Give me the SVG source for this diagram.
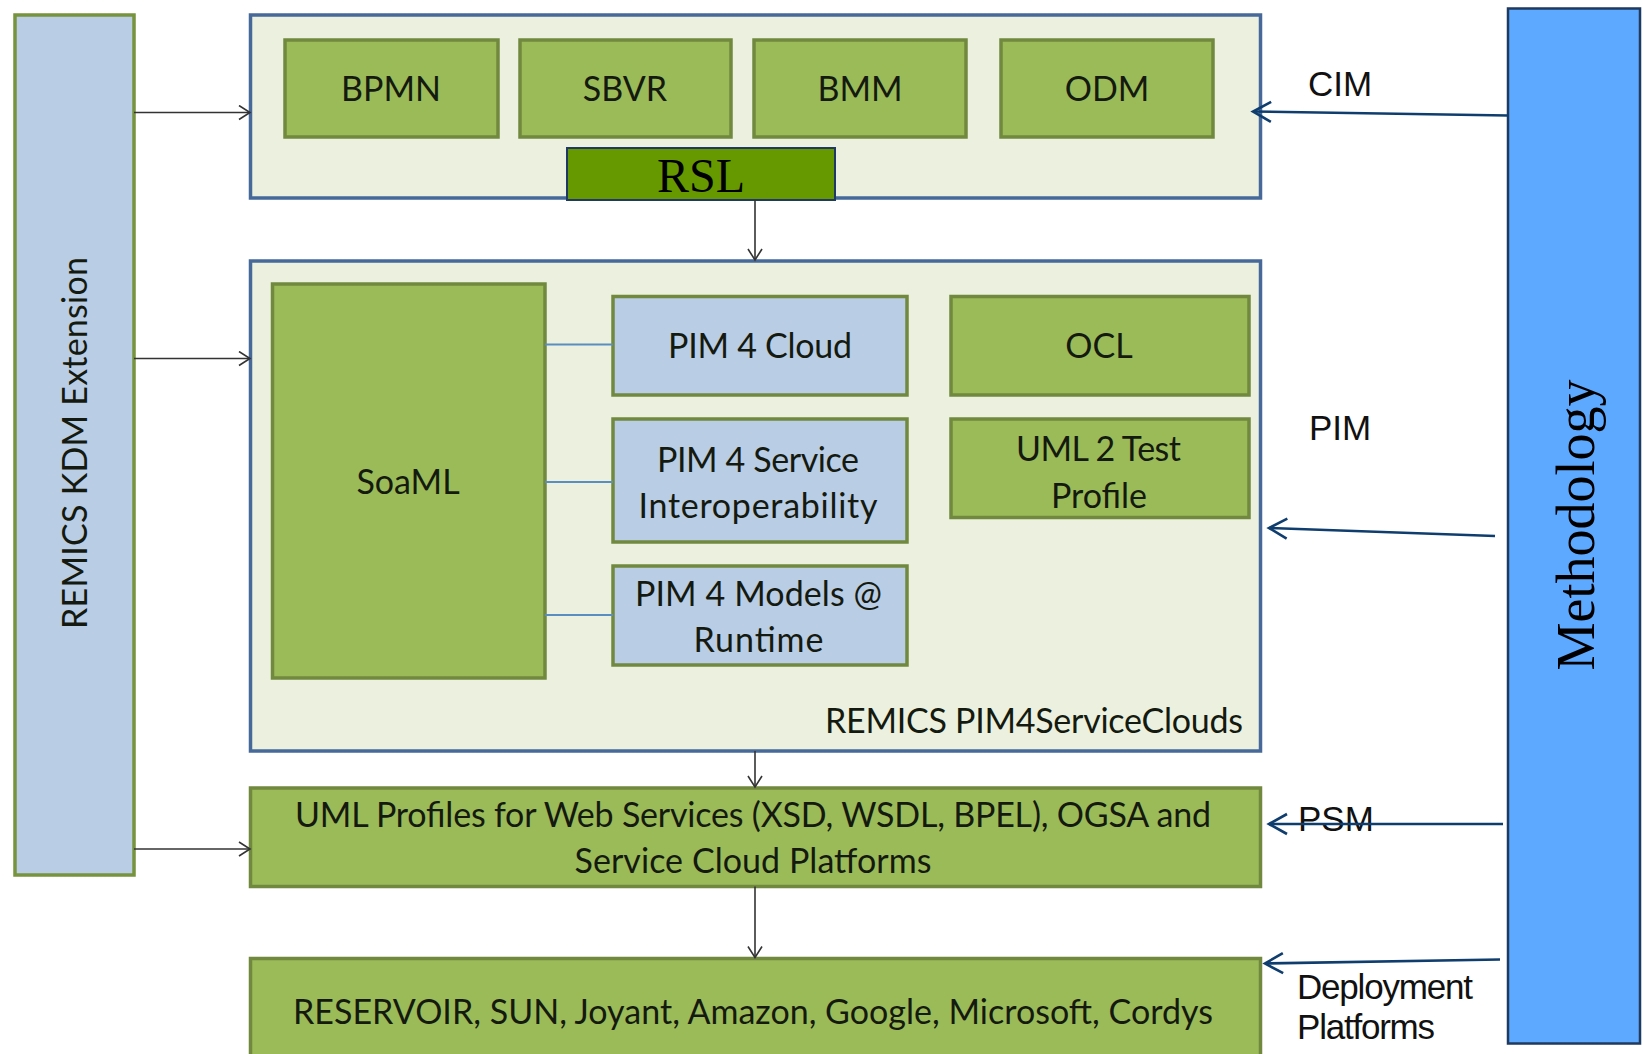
<svg xmlns="http://www.w3.org/2000/svg" width="1643" height="1054" viewBox="0 0 1643 1054">
<defs>
<style>
.cont{fill:#EBF1DE;stroke:#46699A;stroke-width:3.5}
.g{fill:#9BBB59;stroke:#71893F;stroke-width:3.5}
.b{fill:#B9CDE5;stroke:#71893F;stroke-width:3.5}
.t{font-family:Lato,"Open Sans",sans-serif;font-size:34px;fill:#151a10;text-anchor:middle}
.a{font-family:"Liberation Sans",Arial,sans-serif;fill:#111;font-size:35px}
.k{stroke:#333;stroke-width:1.6;fill:none}
.n{stroke:#0F3D6E;stroke-width:2.6;fill:none}
.lnk{stroke:#5B8EC0;stroke-width:2;fill:none}
</style>
<marker id="ak" markerWidth="14" markerHeight="16" refX="12" refY="8" orient="auto" markerUnits="userSpaceOnUse"><path d="M1,1 L12,8 L1,15" fill="none" stroke="#333" stroke-width="1.6"/></marker>
<marker id="an" markerWidth="22" markerHeight="24" refX="19" refY="12" orient="auto" markerUnits="userSpaceOnUse"><path d="M1,2 L19,12 L1,22" fill="none" stroke="#0F3D6E" stroke-width="2.6"/></marker>
</defs>
<rect width="1643" height="1054" fill="#fff"/>

<g id="kdm">
<rect x="15" y="15" width="119" height="860" fill="#B9CDE5" stroke="#77933C" stroke-width="3.5"/>
<text class="t" transform="translate(87,443) rotate(-90)" textLength="372">REMICS KDM Extension</text>
</g>

<g id="methodology">
<rect x="1508" y="8.5" width="132" height="1035" fill="#5DA9FF" stroke="#1F3A60" stroke-width="2.5"/>
<text transform="translate(1594,525) rotate(-90)" font-family="'Liberation Serif','Times New Roman',serif" font-size="54" text-anchor="middle" fill="#000">Methodology</text>
</g>

<g id="cim">
<rect class="cont" x="250.5" y="15" width="1010" height="183"/>
<g id="bpmn"><rect class="g" x="285" y="40" width="213" height="97"/><text class="t" x="391" y="100.5">BPMN</text></g>
<g id="sbvr"><rect class="g" x="520" y="40" width="211" height="97"/><text class="t" x="625" y="100.5">SBVR</text></g>
<g id="bmm"><rect class="g" x="754" y="40" width="212" height="97"/><text class="t" x="860" y="100.5">BMM</text></g>
<g id="odm"><rect class="g" x="1001" y="40" width="212" height="97"/><text class="t" x="1107" y="100.5">ODM</text></g>
<g id="rsl"><rect x="567" y="148" width="268" height="52" fill="#669900" stroke="#1F3864" stroke-width="2"/><text x="701" y="192" font-family="'Liberation Serif','Times New Roman',serif" font-size="48" text-anchor="middle" fill="#000">RSL</text></g>
</g>

<g id="pim">
<rect class="cont" x="250.5" y="261" width="1010" height="490"/>
<g id="soaml"><rect class="g" x="272.5" y="284" width="272.5" height="394"/><text class="t" x="408" y="494">SoaML</text></g>
<g id="pim4cloud"><rect class="b" x="613" y="296.5" width="294" height="98.5"/><text class="t" x="760" y="358" textLength="184">PIM 4 Cloud</text></g>
<g id="pim4service"><rect class="b" x="613" y="419" width="294" height="123"/><text class="t" x="758" y="472" textLength="202">PIM 4 Service</text><text class="t" x="758" y="518" textLength="239">Interoperability</text></g>
<g id="pim4models"><rect class="b" x="613" y="566" width="294" height="99"/><text class="t" x="758.5" y="605.5" textLength="247">PIM 4 Models @</text><text class="t" x="758.5" y="652" textLength="130">Runtime</text></g>
<g id="ocl"><rect class="g" x="951" y="296.5" width="298" height="98.5"/><text class="t" x="1099" y="358">OCL</text></g>
<g id="uml2test"><rect class="g" x="951" y="419" width="298" height="98.5"/><text class="t" x="1098.5" y="461" textLength="165">UML 2 Test</text><text class="t" x="1099" y="508" textLength="96">Profile</text></g>
<text class="t" x="1034" y="733" textLength="418">REMICS PIM4ServiceClouds</text>
</g>

<g id="psm">
<rect class="g" x="250.5" y="788" width="1010" height="98.5"/>
<text class="t" x="753" y="827" textLength="916">UML Profiles for Web Services (XSD, WSDL, BPEL), OGSA and</text>
<text class="t" x="753" y="873" textLength="357">Service Cloud Platforms</text>
</g>

<g id="deploy">
<rect class="g" x="250.5" y="958.5" width="1010" height="110"/>
<text class="t" x="753" y="1023.5" textLength="920">RESERVOIR, SUN, Joyant, Amazon, Google, Microsoft, Cordys</text>
</g>

<g id="labels">
<text class="a" x="1308" y="96" font-size="36">CIM</text>
<text class="a" x="1309" y="440" font-size="36">PIM</text>
<text class="a" x="1298" y="831" font-size="35">PSM</text>
<text class="a" x="1297" y="999" font-size="31" textLength="176">Deployment</text>
<text class="a" x="1297" y="1039" font-size="31" textLength="138">Platforms</text>
</g>

<g id="connectors">
<line class="k" x1="134" y1="112.5" x2="250" y2="112.5" marker-end="url(#ak)"/>
<line class="k" x1="134" y1="358.5" x2="250" y2="358.5" marker-end="url(#ak)"/>
<line class="k" x1="134" y1="849" x2="250" y2="849" marker-end="url(#ak)"/>
<line class="k" x1="755" y1="200" x2="755" y2="260" marker-end="url(#ak)"/>
<line class="k" x1="755" y1="751" x2="755" y2="787" marker-end="url(#ak)"/>
<line class="k" x1="755" y1="886.5" x2="755" y2="957.5" marker-end="url(#ak)"/>
<line class="lnk" x1="545" y1="344.5" x2="613" y2="344.5"/>
<line class="lnk" x1="545" y1="482" x2="613" y2="482"/>
<line class="lnk" x1="545" y1="615" x2="613" y2="615"/>
<line class="n" x1="1508" y1="115.5" x2="1253" y2="111.5" marker-end="url(#an)"/>
<line class="n" x1="1495" y1="536" x2="1269" y2="528" marker-end="url(#an)"/>
<line class="n" x1="1503" y1="824" x2="1269" y2="824" marker-end="url(#an)"/>
<line class="n" x1="1500" y1="959.5" x2="1265" y2="963.5" marker-end="url(#an)"/>
</g>
</svg>
